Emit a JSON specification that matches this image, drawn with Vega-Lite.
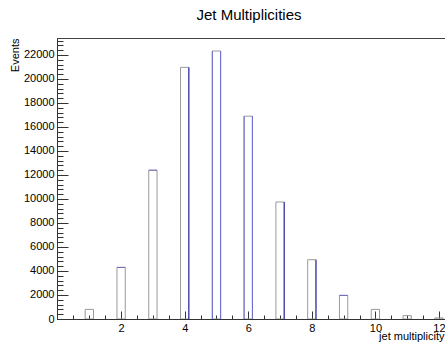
{
  "$schema": "https://vega.github.io/schema/vega-lite/v6.json",
  "width": 400,
  "height": 281,
  "autosize": {"type": "none"},
  "padding": {"left": 57, "top": 38, "right": 0, "bottom": 28},
  "background": "white",
  "title": {
    "text": "Jet Multiplicities",
    "font": "Liberation Sans",
    "fontSize": 15,
    "fontWeight": "normal",
    "color": "black",
    "baseline": "alphabetic",
    "offset": 20,
    "dy": 20.5,
    "dx": -8,
    "anchor": "middle",
    "frame": "group"
  },
  "config": {
    "view": {"stroke": "#444", "strokeWidth": 1},
    "axis": {
      "labelFont": "Liberation Sans",
      "labelFontSize": 11,
      "labelColor": "black",
      "titleFont": "Liberation Sans",
      "titleFontSize": 11,
      "titleFontWeight": "normal",
      "titleColor": "black",
      "domainColor": "#333",
      "tickColor": "#333",
      "ticks": true,
      "tickWidth": 1,
      "grid": false,
      "labelOverlap": false,
      "labelFlush": false,
      "zindex": 1
    }
  },
  "data": {
    "values": [
      {"multiplicity": 1, "events": 800},
      {"multiplicity": 2, "events": 4300},
      {"multiplicity": 3, "events": 12400},
      {"multiplicity": 4, "events": 20970},
      {"multiplicity": 5, "events": 22330},
      {"multiplicity": 6, "events": 16900},
      {"multiplicity": 7, "events": 9750},
      {"multiplicity": 8, "events": 4940},
      {"multiplicity": 9, "events": 1970},
      {"multiplicity": 10, "events": 800},
      {"multiplicity": 11, "events": 280},
      {"multiplicity": 12, "events": 90}
    ]
  },
  "encoding": {
    "x": {
      "field": "multiplicity",
      "type": "quantitative",
      "scale": {"domain": [0.14, 12.41], "nice": false, "zero": false},
      "axis": {
        "title": "jet multiplicity",
        "titleX": 387,
        "titleY": 20.5,
        "titleAlign": "right",
        "titleBaseline": "alphabetic",
        "values": [0.5, 1, 1.5, 2, 2.5, 3, 3.5, 4, 4.5, 5, 5.5, 6, 6.5, 7, 7.5, 8, 8.5, 9, 9.5, 10, 10.5, 11, 11.5, 12],
        "labelExpr": "datum.value % 2 === 0 ? format(datum.value, 'd') : ''",
        "tickSize": {"condition": {"test": "datum.value % 2 === 0", "value": -8}, "value": -4},
        "labelPadding": 11,
        "labelBaseline": "top"
      }
    },
    "y": {
      "field": "events",
      "type": "quantitative",
      "scale": {"domain": [0, 23415], "nice": false},
      "axis": {
        "title": "Events",
        "titleX": -39,
        "titleY": 0,
        "titleAngle": -90,
        "titleAlign": "right",
        "titleBaseline": "alphabetic",
        "values": [0, 400, 800, 1200, 1600, 2000, 2400, 2800, 3200, 3600, 4000, 4400, 4800, 5200, 5600, 6000, 6400, 6800, 7200, 7600, 8000, 8400, 8800, 9200, 9600, 10000, 10400, 10800, 11200, 11600, 12000, 12400, 12800, 13200, 13600, 14000, 14400, 14800, 15200, 15600, 16000, 16400, 16800, 17200, 17600, 18000, 18400, 18800, 19200, 19600, 20000, 20400, 20800, 21200, 21600, 22000, 22400, 22800, 23200],
        "labelExpr": "datum.value % 2000 === 0 ? format(datum.value, 'd') : ''",
        "tickSize": {"condition": {"test": "datum.value % 2000 === 0", "value": -11}, "value": -6},
        "labelPadding": 14
      }
    }
  },
  "layer": [
    {
      "mark": {"type": "bar", "width": 8.3, "fill": "white", "fillOpacity": 0, "stroke": "#9a9a9a", "strokeWidth": 1, "clip": true}
    },
    {
      "transform": [{"filter": {"field": "multiplicity", "oneOf": [4, 7, 8]}}],
      "mark": {"type": "rule", "xOffset": 4.15, "color": "#1f1fae", "strokeWidth": 1, "clip": true},
      "encoding": {"y2": {"datum": 0}}
    },
    {
      "transform": [{"filter": {"field": "multiplicity", "oneOf": [5, 6]}}],
      "mark": {"type": "rule", "xOffset": 4.15, "color": "#6a6ad2", "strokeWidth": 1, "clip": true},
      "encoding": {"y2": {"datum": 0}}
    },
    {
      "transform": [{"filter": {"field": "multiplicity", "oneOf": [5, 6]}}],
      "mark": {"type": "rule", "xOffset": -4.15, "color": "#6a6ad2", "strokeWidth": 1, "clip": true},
      "encoding": {"y2": {"datum": 0}}
    },
    {
      "transform": [{"filter": {"field": "multiplicity", "oneOf": [2, 3, 9]}}],
      "mark": {"type": "tick", "orient": "horizontal", "size": 8.3, "thickness": 1, "color": "#5050c8", "clip": true}
    }
  ]
}
